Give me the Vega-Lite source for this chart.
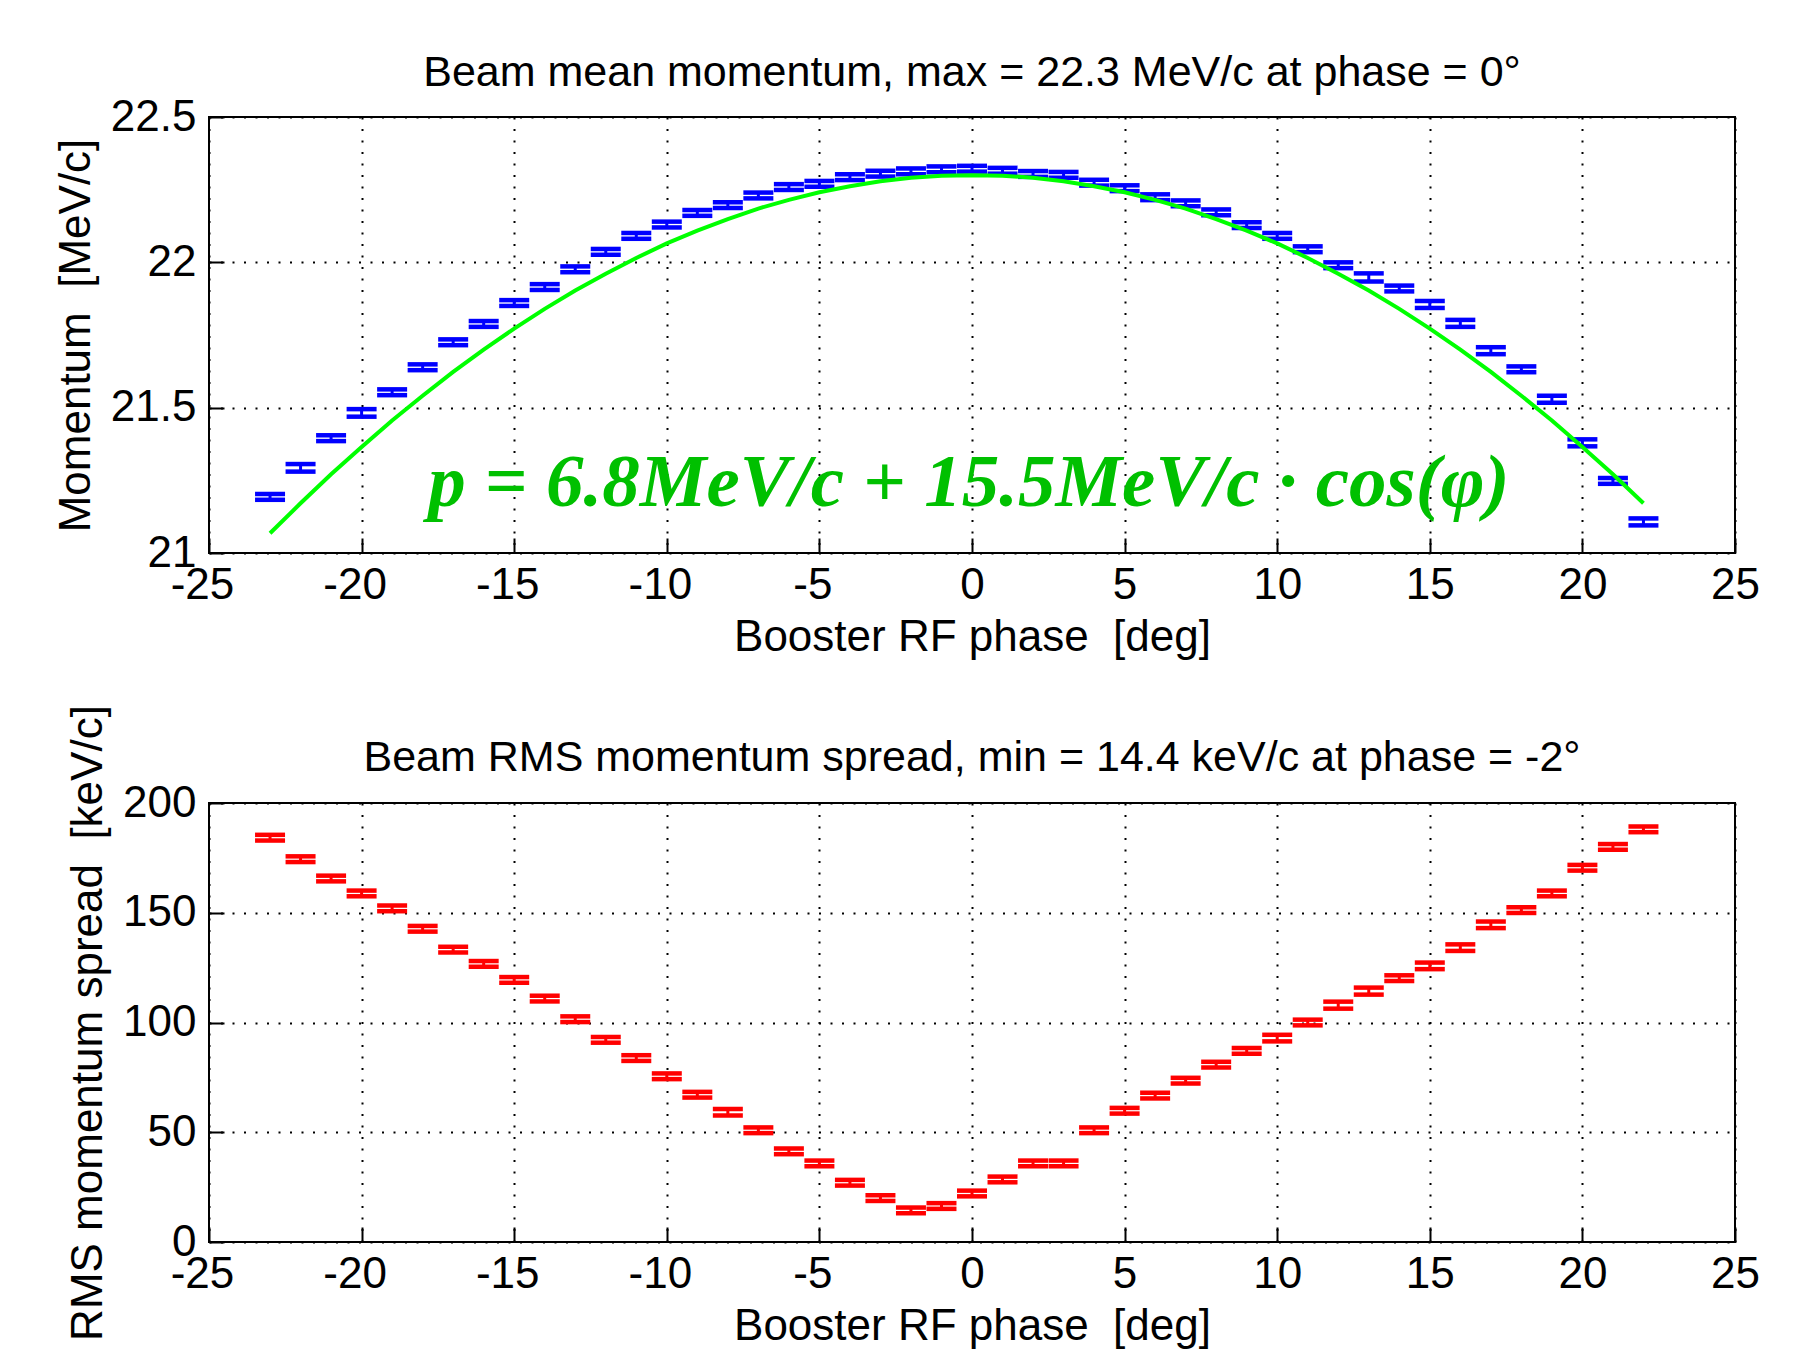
{
  "$schema": "https://vega.github.io/schema/vega-lite/v6.json",
  "padding": {"left": 53, "top": 51, "right": 5, "bottom": 5},
  "background": "white",
  "spacing": 250,
  "bounds": "flush",
  "config": {
    "font": "Liberation Sans",
    "view": {"stroke": "black", "strokeWidth": 2},
    "axis": {
      "labelFont": "Liberation Sans",
      "titleFont": "Liberation Sans",
      "labelFontSize": 44,
      "titleFontSize": 44,
      "titleFontWeight": "normal",
      "labelColor": "black",
      "titleColor": "black",
      "domain": false,
      "grid": true,
      "gridColor": "black",
      "gridOpacity": 1,
      "gridDash": [2, 9.5],
      "gridWidth": 2,
      "tickColor": "black",
      "tickWidth": 2,
      "tickSize": -15,
      "labelFlush": false,
      "labelBound": false,
      "labelOverlap": false,
      "labelExpr": "'' + datum.value"
    },
    "title": {"fontSize": 43, "fontWeight": "normal", "color": "black", "font": "Liberation Sans", "anchor": "middle", "baseline": "alphabetic"}
  },
  "datasets": {
    "mean": [
      {"phase": -23, "p": 21.193, "lo": 21.183, "hi": 21.203},
      {"phase": -22, "p": 21.293, "lo": 21.280, "hi": 21.306},
      {"phase": -21, "p": 21.395, "lo": 21.385, "hi": 21.405},
      {"phase": -20, "p": 21.482, "lo": 21.469, "hi": 21.495},
      {"phase": -19, "p": 21.553, "lo": 21.543, "hi": 21.563},
      {"phase": -18, "p": 21.639, "lo": 21.629, "hi": 21.649},
      {"phase": -17, "p": 21.725, "lo": 21.715, "hi": 21.735},
      {"phase": -16, "p": 21.788, "lo": 21.778, "hi": 21.798},
      {"phase": -15, "p": 21.860, "lo": 21.850, "hi": 21.870},
      {"phase": -14, "p": 21.915, "lo": 21.905, "hi": 21.925},
      {"phase": -13, "p": 21.976, "lo": 21.966, "hi": 21.986},
      {"phase": -12, "p": 22.036, "lo": 22.026, "hi": 22.046},
      {"phase": -11, "p": 22.091, "lo": 22.081, "hi": 22.101},
      {"phase": -10, "p": 22.130, "lo": 22.120, "hi": 22.140},
      {"phase": -9, "p": 22.170, "lo": 22.160, "hi": 22.180},
      {"phase": -8, "p": 22.197, "lo": 22.187, "hi": 22.207},
      {"phase": -7, "p": 22.230, "lo": 22.220, "hi": 22.240},
      {"phase": -6, "p": 22.259, "lo": 22.249, "hi": 22.269},
      {"phase": -5, "p": 22.270, "lo": 22.260, "hi": 22.280},
      {"phase": -4, "p": 22.293, "lo": 22.283, "hi": 22.303},
      {"phase": -3, "p": 22.305, "lo": 22.295, "hi": 22.315},
      {"phase": -2, "p": 22.313, "lo": 22.303, "hi": 22.323},
      {"phase": -1, "p": 22.320, "lo": 22.310, "hi": 22.330},
      {"phase": 0, "p": 22.322, "lo": 22.312, "hi": 22.332},
      {"phase": 1, "p": 22.315, "lo": 22.305, "hi": 22.325},
      {"phase": 2, "p": 22.304, "lo": 22.294, "hi": 22.314},
      {"phase": 3, "p": 22.301, "lo": 22.291, "hi": 22.311},
      {"phase": 4, "p": 22.274, "lo": 22.264, "hi": 22.284},
      {"phase": 5, "p": 22.255, "lo": 22.245, "hi": 22.265},
      {"phase": 6, "p": 22.224, "lo": 22.214, "hi": 22.234},
      {"phase": 7, "p": 22.203, "lo": 22.193, "hi": 22.213},
      {"phase": 8, "p": 22.172, "lo": 22.162, "hi": 22.182},
      {"phase": 9, "p": 22.128, "lo": 22.118, "hi": 22.138},
      {"phase": 10, "p": 22.091, "lo": 22.081, "hi": 22.101},
      {"phase": 11, "p": 22.045, "lo": 22.035, "hi": 22.055},
      {"phase": 12, "p": 21.990, "lo": 21.980, "hi": 22.000},
      {"phase": 13, "p": 21.948, "lo": 21.934, "hi": 21.962},
      {"phase": 14, "p": 21.910, "lo": 21.900, "hi": 21.920},
      {"phase": 15, "p": 21.855, "lo": 21.843, "hi": 21.867},
      {"phase": 16, "p": 21.790, "lo": 21.778, "hi": 21.802},
      {"phase": 17, "p": 21.696, "lo": 21.684, "hi": 21.708},
      {"phase": 18, "p": 21.632, "lo": 21.622, "hi": 21.642},
      {"phase": 19, "p": 21.529, "lo": 21.517, "hi": 21.541},
      {"phase": 20, "p": 21.379, "lo": 21.367, "hi": 21.391},
      {"phase": 21, "p": 21.248, "lo": 21.238, "hi": 21.258},
      {"phase": 22, "p": 21.107, "lo": 21.095, "hi": 21.119}
    ],
    "fit": [
      {"phase": -23, "p": 21.068}, {"phase": -22, "p": 21.171}, {"phase": -21, "p": 21.271},
      {"phase": -20, "p": 21.365}, {"phase": -19, "p": 21.456}, {"phase": -18, "p": 21.541},
      {"phase": -17, "p": 21.623}, {"phase": -16, "p": 21.700}, {"phase": -15, "p": 21.772},
      {"phase": -14, "p": 21.840}, {"phase": -13, "p": 21.903}, {"phase": -12, "p": 21.961},
      {"phase": -11, "p": 22.015}, {"phase": -10, "p": 22.065}, {"phase": -9, "p": 22.109},
      {"phase": -8, "p": 22.149}, {"phase": -7, "p": 22.185}, {"phase": -6, "p": 22.215},
      {"phase": -5, "p": 22.241}, {"phase": -4, "p": 22.262}, {"phase": -3, "p": 22.279},
      {"phase": -2, "p": 22.291}, {"phase": -1, "p": 22.298}, {"phase": 0, "p": 22.300},
      {"phase": 1, "p": 22.298}, {"phase": 2, "p": 22.291}, {"phase": 3, "p": 22.279},
      {"phase": 4, "p": 22.262}, {"phase": 5, "p": 22.241}, {"phase": 6, "p": 22.215},
      {"phase": 7, "p": 22.185}, {"phase": 8, "p": 22.149}, {"phase": 9, "p": 22.109},
      {"phase": 10, "p": 22.065}, {"phase": 11, "p": 22.015}, {"phase": 12, "p": 21.961},
      {"phase": 13, "p": 21.903}, {"phase": 14, "p": 21.840}, {"phase": 15, "p": 21.772},
      {"phase": 16, "p": 21.700}, {"phase": 17, "p": 21.623}, {"phase": 18, "p": 21.541},
      {"phase": 19, "p": 21.456}, {"phase": 20, "p": 21.365}, {"phase": 21, "p": 21.271},
      {"phase": 22, "p": 21.171}
    ],
    "rms": [
      {"phase": -23, "s": 184.2, "lo": 182.9, "hi": 185.5},
      {"phase": -22, "s": 174.4, "lo": 173.1, "hi": 175.7},
      {"phase": -21, "s": 165.6, "lo": 164.3, "hi": 166.9},
      {"phase": -20, "s": 158.8, "lo": 157.5, "hi": 160.1},
      {"phase": -19, "s": 152.0, "lo": 150.7, "hi": 153.3},
      {"phase": -18, "s": 142.7, "lo": 141.4, "hi": 144.0},
      {"phase": -17, "s": 133.2, "lo": 131.9, "hi": 134.5},
      {"phase": -16, "s": 126.7, "lo": 125.4, "hi": 128.0},
      {"phase": -15, "s": 119.4, "lo": 118.1, "hi": 120.7},
      {"phase": -14, "s": 110.9, "lo": 109.6, "hi": 112.2},
      {"phase": -13, "s": 101.5, "lo": 100.2, "hi": 102.8},
      {"phase": -12, "s": 92.1, "lo": 90.8, "hi": 93.4},
      {"phase": -11, "s": 83.8, "lo": 82.5, "hi": 85.1},
      {"phase": -10, "s": 75.5, "lo": 74.2, "hi": 76.8},
      {"phase": -9, "s": 67.1, "lo": 65.8, "hi": 68.4},
      {"phase": -8, "s": 59.1, "lo": 57.6, "hi": 60.6},
      {"phase": -7, "s": 50.9, "lo": 49.6, "hi": 52.2},
      {"phase": -6, "s": 41.3, "lo": 40.0, "hi": 42.6},
      {"phase": -5, "s": 35.8, "lo": 34.5, "hi": 37.1},
      {"phase": -4, "s": 27.0, "lo": 25.7, "hi": 28.3},
      {"phase": -3, "s": 20.0, "lo": 18.7, "hi": 21.3},
      {"phase": -2, "s": 14.4, "lo": 13.1, "hi": 15.7},
      {"phase": -1, "s": 16.4, "lo": 15.1, "hi": 17.7},
      {"phase": 0, "s": 22.1, "lo": 20.8, "hi": 23.4},
      {"phase": 1, "s": 28.5, "lo": 27.2, "hi": 29.8},
      {"phase": 2, "s": 35.8, "lo": 34.5, "hi": 37.1},
      {"phase": 3, "s": 35.8, "lo": 34.5, "hi": 37.1},
      {"phase": 4, "s": 50.9, "lo": 49.6, "hi": 52.2},
      {"phase": 5, "s": 59.8, "lo": 58.5, "hi": 61.1},
      {"phase": 6, "s": 66.7, "lo": 65.4, "hi": 68.0},
      {"phase": 7, "s": 73.5, "lo": 72.2, "hi": 74.8},
      {"phase": 8, "s": 80.8, "lo": 79.5, "hi": 82.1},
      {"phase": 9, "s": 87.1, "lo": 85.8, "hi": 88.4},
      {"phase": 10, "s": 92.9, "lo": 91.4, "hi": 94.4},
      {"phase": 11, "s": 100.0, "lo": 98.7, "hi": 101.3},
      {"phase": 12, "s": 107.9, "lo": 106.3, "hi": 109.5},
      {"phase": 13, "s": 114.3, "lo": 112.7, "hi": 115.9},
      {"phase": 14, "s": 120.2, "lo": 118.9, "hi": 121.5},
      {"phase": 15, "s": 125.8, "lo": 124.3, "hi": 127.3},
      {"phase": 16, "s": 134.1, "lo": 132.6, "hi": 135.6},
      {"phase": 17, "s": 144.5, "lo": 143.0, "hi": 146.0},
      {"phase": 18, "s": 151.2, "lo": 149.9, "hi": 152.5},
      {"phase": 19, "s": 158.8, "lo": 157.5, "hi": 160.1},
      {"phase": 20, "s": 170.5, "lo": 169.2, "hi": 171.8},
      {"phase": 21, "s": 180.0, "lo": 178.7, "hi": 181.3},
      {"phase": 22, "s": 188.0, "lo": 186.7, "hi": 189.3}
    ]
  },
  "vconcat": [
    {
      "width": 1526,
      "height": 436,
      "title": {"text": "Beam mean momentum, max = 22.3 MeV/c at phase = 0°", "offset": 0},
      "layer": [
        {
          "data": {"name": "mean"},
          "mark": {"type": "rule", "color": "#0000ff", "strokeWidth": 3},
          "encoding": {
            "x": {"field": "phase", "type": "quantitative", "scale": {"domain": [-25, 25], "nice": false, "zero": false},
                  "axis": {"values": [-25, -20, -15, -10, -5, 0, 5, 10, 15, 20, 25], "title": "Booster RF phase \u00a0[deg]", "labelPadding": 25, "titlePadding": 8,
                           "labelOffset": {"condition": {"test": "datum.value < 0", "value": -7}, "value": 0}}},
            "y": {"field": "lo", "type": "quantitative", "scale": {"domain": [21, 22.5], "nice": false, "zero": false},
                  "axis": {"values": [21, 21.5, 22, 22.5], "title": "Momentum \u00a0[MeV/c]", "labelPadding": 28, "titlePadding": 12}},
            "y2": {"field": "hi"}
          }
        },
        {
          "data": {"name": "mean"},
          "mark": {"type": "tick", "orient": "horizontal", "color": "#0000ff", "size": 30, "thickness": 4.5, "opacity": 1},
          "encoding": {
            "x": {"field": "phase", "type": "quantitative"},
            "y": {"field": "lo", "type": "quantitative", "title": "Momentum \u00a0[MeV/c]"}
          }
        },
        {
          "data": {"name": "mean"},
          "mark": {"type": "tick", "orient": "horizontal", "color": "#0000ff", "size": 30, "thickness": 4.5, "opacity": 1},
          "encoding": {
            "x": {"field": "phase", "type": "quantitative"},
            "y": {"field": "hi", "type": "quantitative", "title": "Momentum \u00a0[MeV/c]"}
          }
        },
        {
          "data": {"name": "fit"},
          "mark": {"type": "line", "color": "#00ff00", "strokeWidth": 4},
          "encoding": {
            "x": {"field": "phase", "type": "quantitative"},
            "y": {"field": "p", "type": "quantitative", "title": "Momentum \u00a0[MeV/c]"}
          }
        },
        {
          "data": {"values": [{"phase": -0.1, "p": 21.161, "label": "p = 6.8MeV/c + 15.5MeV/c · cos(φ)"}]},
          "mark": {"type": "text", "font": "Liberation Serif", "fontStyle": "italic", "fontWeight": "bold", "fontSize": 75, "color": "#00c000", "align": "center", "baseline": "alphabetic"},
          "encoding": {
            "x": {"field": "phase", "type": "quantitative"},
            "y": {"field": "p", "type": "quantitative", "title": "Momentum \u00a0[MeV/c]"},
            "text": {"field": "label"}
          }
        }
      ]
    },
    {
      "width": 1526,
      "height": 439,
      "title": {"text": "Beam RMS momentum spread, min = 14.4 keV/c at phase = -2°", "offset": -75},
      "layer": [
        {
          "data": {"name": "rms"},
          "mark": {"type": "rule", "color": "#ff0000", "strokeWidth": 3},
          "encoding": {
            "x": {"field": "phase", "type": "quantitative", "scale": {"domain": [-25, 25], "nice": false, "zero": false},
                  "axis": {"values": [-25, -20, -15, -10, -5, 0, 5, 10, 15, 20, 25], "title": "Booster RF phase \u00a0[deg]", "labelPadding": 25, "titlePadding": 8,
                           "labelOffset": {"condition": {"test": "datum.value < 0", "value": -7}, "value": 0}}},
            "y": {"field": "lo", "type": "quantitative", "scale": {"domain": [0, 200], "nice": false},
                  "axis": {"values": [0, 50, 100, 150, 200], "title": "RMS momentum spread \u00a0[keV/c]", "labelPadding": 28, "titlePadding": 12}},
            "y2": {"field": "hi"}
          }
        },
        {
          "data": {"name": "rms"},
          "mark": {"type": "tick", "orient": "horizontal", "color": "#ff0000", "size": 30, "thickness": 4.5, "opacity": 1},
          "encoding": {
            "x": {"field": "phase", "type": "quantitative"},
            "y": {"field": "lo", "type": "quantitative", "title": "RMS momentum spread \u00a0[keV/c]"}
          }
        },
        {
          "data": {"name": "rms"},
          "mark": {"type": "tick", "orient": "horizontal", "color": "#ff0000", "size": 30, "thickness": 4.5, "opacity": 1},
          "encoding": {
            "x": {"field": "phase", "type": "quantitative"},
            "y": {"field": "hi", "type": "quantitative", "title": "RMS momentum spread \u00a0[keV/c]"}
          }
        }
      ]
    }
  ]
}
